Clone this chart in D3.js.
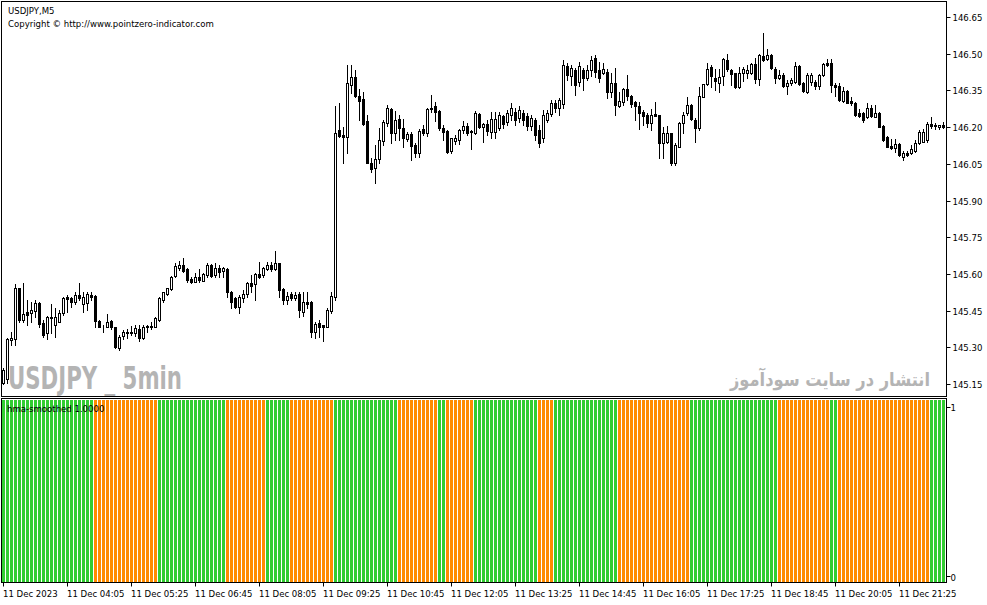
<!DOCTYPE html>
<html><head><meta charset="utf-8">
<script src="https://cdn.jsdelivr.net/npm/d3@7/dist/d3.min.js"></script>
<style>
body{margin:0;background:#fff}
svg{display:block}
.t{font-family:"DejaVu Sans Condensed","DejaVu Sans",sans-serif;font-size:9.5px;fill:#000}
</style>
</head><body>
<svg id="c" width="987" height="605"></svg>
<script>
// ---------- data ----------
const symbolTitle = "USDJPY,M5";
const copyrightText = "Copyright © http://www.pointzero-indicator.com";
const indicatorName = "hma-smoothed 1.0000";
const watermarkLeft = "USDJPY _ 5min";
const watermarkRight = "انتشار در سایت سودآموز";

const open = [
145.156,145.169,145.328,145.332,145.544,145.413,145.446,145.442,145.450,145.483,
145.401,145.360,145.422,145.393,145.405,145.442,145.507,145.503,145.487,145.515,
145.475,145.483,145.515,145.511,145.409,145.385,145.385,145.409,145.381,145.299,
145.348,145.364,145.360,145.360,145.373,145.336,145.381,145.389,145.381,145.413,
145.495,145.519,145.540,145.593,145.626,145.638,145.621,145.581,145.568,145.589,
145.573,145.597,145.638,145.597,145.626,145.613,145.621,145.528,145.503,145.466,
145.503,145.519,145.564,145.560,145.601,145.597,145.621,145.638,145.621,145.646,
145.540,145.495,145.519,145.503,145.519,145.446,145.487,145.487,145.364,145.401,
145.393,145.385,145.450,145.507,146.189,146.168,146.160,146.372,146.405,146.327,
146.315,146.225,146.054,146.034,146.070,146.144,146.217,146.274,146.176,146.233,
146.197,146.152,146.172,146.127,146.095,146.193,146.176,146.278,146.286,146.266,
146.197,146.185,146.103,146.144,146.148,146.189,146.205,146.185,146.176,146.254,
146.201,146.213,146.180,146.180,146.197,146.246,146.221,146.250,146.262,146.238,
146.258,146.246,146.205,146.229,146.189,146.156,146.229,146.254,146.299,146.278,
146.295,146.450,146.409,146.433,146.384,146.433,146.401,146.433,146.482,146.433,
146.421,146.425,146.344,146.380,146.286,146.303,146.356,146.327,146.303,146.286,
146.262,146.250,146.217,146.254,146.250,146.136,146.140,146.176,146.054,146.119,
146.217,146.258,146.291,146.229,146.197,146.323,146.376,146.446,146.401,146.380,
146.409,146.474,146.433,146.421,146.364,146.421,146.421,146.421,146.458,146.397,
146.491,146.478,146.495,146.437,146.401,146.413,146.368,146.380,146.384,146.450,
146.380,146.344,146.384,146.384,146.368,146.413,146.462,146.462,146.372,146.368,
146.307,146.348,146.307,146.299,146.258,146.258,146.242,146.278,146.242,146.258,
146.205,146.160,146.123,146.115,146.132,146.079,146.095,146.095,146.103,146.136,
146.140,146.148,146.213,146.209,146.201,146.209];
const high = [
145.217,145.340,145.364,145.560,145.544,145.564,145.495,145.487,145.495,145.487,
145.413,145.426,145.479,145.462,145.454,145.507,145.515,145.507,145.524,145.564,
145.524,145.524,145.524,145.515,145.413,145.393,145.438,145.413,145.385,145.352,
145.369,145.373,145.389,145.393,145.393,145.393,145.393,145.405,145.422,145.507,
145.528,145.544,145.593,145.646,145.654,145.666,145.626,145.589,145.605,145.621,
145.605,145.646,145.642,145.646,145.638,145.630,145.626,145.532,145.507,145.515,
145.536,145.568,145.597,145.605,145.650,145.630,145.650,145.650,145.695,145.646,
145.544,145.528,145.524,145.524,145.524,145.524,145.524,145.491,145.405,145.413,
145.393,145.462,145.528,146.286,146.299,146.201,146.454,146.454,146.433,146.356,
146.344,146.250,146.074,146.127,146.197,146.229,146.291,146.278,146.266,146.250,
146.233,146.180,146.180,146.136,146.193,146.209,146.278,146.331,146.303,146.270,
146.209,146.189,146.156,146.168,146.193,146.225,146.217,146.189,146.266,146.258,
146.217,146.229,146.262,146.262,146.262,146.250,146.270,146.299,146.278,146.286,
146.270,146.258,146.250,146.238,146.209,146.270,146.270,146.311,146.311,146.319,
146.474,146.462,146.454,146.442,146.466,146.442,146.454,146.491,146.495,146.466,
146.462,146.437,146.421,146.442,146.344,146.360,146.413,146.331,146.307,146.303,
146.270,146.258,146.274,146.303,146.250,146.201,146.205,146.176,146.136,146.221,
146.262,146.323,146.295,146.238,146.364,146.376,146.462,146.454,146.437,146.437,
146.482,146.499,146.437,146.421,146.446,146.446,146.454,146.462,146.482,146.499,
146.584,146.519,146.499,146.446,146.433,146.421,146.393,146.401,146.466,146.454,
146.384,146.421,146.421,146.393,146.417,146.462,146.478,146.478,146.380,146.380,
146.364,146.352,146.323,146.303,146.274,146.262,146.299,146.291,146.291,146.262,
146.209,146.164,146.152,146.152,146.136,146.103,146.103,146.127,146.148,146.189,
146.193,146.221,146.242,146.217,146.209,146.221];
const low = [
145.148,145.156,145.311,145.311,145.405,145.405,145.393,145.405,145.422,145.381,
145.344,145.332,145.360,145.344,145.405,145.434,145.446,145.466,145.475,145.495,
145.446,145.454,145.495,145.381,145.381,145.364,145.381,145.373,145.299,145.291,
145.332,145.340,145.352,145.348,145.324,145.332,145.364,145.373,145.381,145.409,
145.487,145.515,145.536,145.589,145.617,145.609,145.568,145.564,145.568,145.568,
145.573,145.589,145.589,145.589,145.589,145.589,145.507,145.462,145.462,145.442,
145.487,145.507,145.524,145.495,145.585,145.589,145.617,145.613,145.617,145.507,
145.479,145.479,145.495,145.495,145.422,145.426,145.462,145.344,145.340,145.344,
145.324,145.381,145.442,145.495,146.160,146.054,146.095,146.340,146.323,146.229,
146.209,146.054,146.017,145.972,146.054,146.127,146.205,146.136,146.148,146.148,
146.119,146.144,146.066,146.079,146.079,146.168,146.164,146.262,146.225,146.189,
146.148,146.095,146.095,146.132,146.132,146.176,146.168,146.111,146.172,146.197,
146.140,146.168,146.156,146.156,146.189,146.197,146.209,146.229,146.209,146.221,
146.209,146.189,146.189,146.148,146.119,146.140,146.221,146.246,146.262,146.250,
146.278,146.393,146.372,146.331,146.368,146.352,146.393,146.409,146.405,146.384,
146.417,146.319,146.323,146.250,146.282,146.291,146.311,146.282,146.229,146.193,
146.209,146.201,146.189,146.246,146.074,146.074,146.136,146.046,146.046,146.119,
146.176,146.250,146.229,146.140,146.189,146.323,146.372,146.364,146.352,146.344,
146.372,146.429,146.372,146.360,146.360,146.389,146.401,146.417,146.380,146.372,
146.470,146.474,146.437,146.380,146.397,146.364,146.336,146.372,146.380,146.372,
146.344,146.340,146.372,146.356,146.356,146.409,146.450,146.344,146.327,146.307,
146.303,146.299,146.291,146.246,146.242,146.221,146.238,146.242,146.242,146.201,
146.144,146.119,146.111,146.099,146.083,146.066,146.083,146.091,146.099,146.132,
146.140,146.140,146.197,146.193,146.193,146.197];
const close = [
145.209,145.332,145.340,145.544,145.413,145.438,145.434,145.454,145.483,145.397,
145.352,145.422,145.418,145.422,145.442,145.503,145.499,145.487,145.515,145.503,
145.507,145.519,145.507,145.409,145.381,145.381,145.405,145.381,145.303,145.344,
145.364,145.360,145.364,145.377,145.340,145.381,145.389,145.385,145.418,145.503,
145.524,145.544,145.589,145.634,145.638,145.613,145.577,145.568,145.589,145.577,
145.601,145.638,145.593,145.626,145.609,145.626,145.528,145.487,145.466,145.507,
145.519,145.564,145.552,145.601,145.589,145.626,145.638,145.621,145.646,145.536,
145.495,145.511,145.503,145.515,145.454,145.487,145.479,145.364,145.397,145.385,
145.385,145.454,145.511,146.176,146.164,146.160,146.380,146.405,146.327,146.307,
146.213,146.054,146.030,146.070,146.148,146.221,146.278,146.176,146.229,146.197,
146.156,146.172,146.123,146.095,146.185,146.176,146.274,146.274,146.262,146.197,
146.180,146.099,146.156,146.156,146.189,146.205,146.176,146.180,146.258,146.201,
146.213,146.185,146.233,146.233,146.250,146.213,146.258,146.278,146.229,146.270,
146.229,146.205,146.238,146.168,146.136,146.250,146.258,146.299,146.278,146.311,
146.454,146.413,146.442,146.372,146.450,146.401,146.433,146.474,146.425,146.401,
146.437,146.344,146.380,146.291,146.307,146.356,146.327,146.295,146.286,146.258,
146.246,146.217,146.250,146.246,146.136,146.176,146.176,146.054,146.127,146.217,
146.250,146.291,146.233,146.197,146.327,146.376,146.437,146.409,146.389,146.405,
146.478,146.437,146.417,146.364,146.421,146.437,146.433,146.458,146.397,146.495,
146.474,146.495,146.442,146.401,146.413,146.368,146.380,146.393,146.450,146.376,
146.348,146.413,146.413,146.368,146.413,146.458,146.454,146.372,146.364,146.311,
146.348,146.299,146.299,146.250,146.246,146.229,146.278,146.246,146.258,146.201,
146.148,146.119,146.115,146.132,146.087,146.095,146.087,146.111,146.136,146.180,
146.180,146.213,146.205,146.205,146.209,146.201];

// hma-smoothed trend per bar, run-length: [state (1 = up, 0 = down), bars]
const trendRuns = [[1,23],[0,16],[1,17],[0,10],[1,6],[0,11],[1,16],[0,10],[1,2],[0,7],
                   [1,16],[0,4],[1,16],[0,18],[1,22],[0,13],[1,2],[0,23],[1,4]];

const priceTicks = [146.65,146.50,146.35,146.20,146.05,145.90,145.75,145.60,145.45,145.30,145.15];
const indicatorTicks = [1, 0];
const timeTickLabels = ["11 Dec 2023","11 Dec 04:05","11 Dec 05:25","11 Dec 06:45","11 Dec 08:05",
  "11 Dec 09:25","11 Dec 10:45","11 Dec 12:05","11 Dec 13:25","11 Dec 14:45","11 Dec 16:05",
  "11 Dec 17:25","11 Dec 18:45","11 Dec 20:05","11 Dec 21:25"];
const barsPerTimeTick = 16;

// ---------- build ----------
const trend = trendRuns.flatMap(([s, n]) => Array(n).fill(s));
const bars = open.map((o, i) => ({i, o, h: high[i], l: low[i], c: close[i], t: trend[i]}));

const svg = d3.select("#c");
const plotL = 1.5, plotR = 946.5;
const mainT = 1.5, mainB = 396.5;
const indT = 398.5, indB = 582.5;

const x = d3.scaleLinear().domain([0, bars.length - 1]).range([3.5, 943.5]);
const y = d3.scaleLinear().domain([145.15, 146.65]).range([384, 17]);
const yi = d3.scaleLinear().domain([0, 1]).range([582, 400]);

// indicator histogram
svg.append("g").selectAll("rect").data(bars).join("rect")
  .attr("x", d => x(d.i) - 1.5).attr("width", 3)
  .attr("y", yi(1)).attr("height", yi(0) - yi(1))
  .attr("fill", d => d.t ? "#32cd32" : "#ff8c00")
  .attr("shape-rendering", "crispEdges");

// watermarks
svg.append("text").attr("x", 8).attr("y", 389)
  .attr("font-family", "'Liberation Sans Narrow','DejaVu Sans Condensed','Liberation Sans',sans-serif")
  .attr("font-weight", "bold").attr("font-size", 32).attr("fill", "#b4b4b4")
  .attr("textLength", 174).attr("lengthAdjust", "spacingAndGlyphs")
  .text(watermarkLeft);
svg.append("text").attr("x", 730).attr("y", 386)
  .attr("font-family", "'DejaVu Sans',sans-serif")
  .attr("font-weight", "bold").attr("font-size", 19).attr("fill", "#b4b4b4")
  .attr("textLength", 200).attr("lengthAdjust", "spacingAndGlyphs")
  .text(watermarkRight);

// candles
const gc = svg.append("g").attr("shape-rendering", "crispEdges");
gc.selectAll("line").data(bars).join("line")
  .attr("x1", d => x(d.i)).attr("x2", d => x(d.i))
  .attr("y1", d => Math.round(y(d.h))).attr("y2", d => Math.round(y(d.l)) + 1)
  .attr("stroke", "#000");
gc.selectAll("rect").data(bars).join("rect")
  .attr("x", d => x(d.i) - 1).attr("width", 2)
  .attr("y", d => Math.round(y(Math.max(d.o, d.c))) + 0.5)
  .attr("height", d => Math.max(0, Math.round(y(Math.min(d.o, d.c))) - Math.round(y(Math.max(d.o, d.c)))))
  .attr("fill", d => d.c >= d.o ? "#fff" : "#000")
  .attr("stroke", "#000");

// frames
svg.append("rect").attr("x", plotL).attr("y", mainT).attr("width", plotR - plotL).attr("height", mainB - mainT)
  .attr("fill", "none").attr("stroke", "#000");
svg.append("rect").attr("x", plotL).attr("y", indT).attr("width", plotR - plotL).attr("height", indB - indT)
  .attr("fill", "none").attr("stroke", "#000");

// price axis
const gp = svg.append("g");
gp.selectAll("line").data(priceTicks).join("line")
  .attr("x1", plotR).attr("x2", plotR + 4)
  .attr("y1", d => Math.round(y(d)) + 0.5).attr("y2", d => Math.round(y(d)) + 0.5)
  .attr("stroke", "#000");
gp.selectAll("text").data(priceTicks).join("text").attr("class", "t")
  .attr("x", plotR + 6).attr("y", d => y(d) + 4)
  .text(d => d.toFixed(2));

// indicator axis
const gia = svg.append("g");
gia.selectAll("line").data(indicatorTicks).join("line")
  .attr("x1", plotR).attr("x2", plotR + 4)
  .attr("y1", d => yi(d) + (d ? 7.5 : -5.5)).attr("y2", d => yi(d) + (d ? 7.5 : -5.5))
  .attr("stroke", "#000");
gia.selectAll("text").data(indicatorTicks).join("text").attr("class", "t")
  .attr("x", plotR + 4).attr("y", d => yi(d) + (d ? 11 : -1))
  .text(d => d);

// time axis
const gt = svg.append("g");
gt.selectAll("line").data(timeTickLabels).join("line")
  .attr("x1", (d, k) => x(k * barsPerTimeTick)).attr("x2", (d, k) => x(k * barsPerTimeTick))
  .attr("y1", indB).attr("y2", indB + 4).attr("stroke", "#000");
gt.selectAll("text").data(timeTickLabels).join("text").attr("class", "t")
  .attr("x", (d, k) => x(k * barsPerTimeTick) - 0.5).attr("y", 597)
  .text(d => d);

// titles
svg.append("text").attr("class", "t").attr("x", 8).attr("y", 14).text(symbolTitle);
svg.append("text").attr("class", "t").attr("x", 8).attr("y", 27).text(copyrightText);
svg.append("text").attr("class", "t").attr("x", 7).attr("y", 412).text(indicatorName);
</script>
</body></html>
